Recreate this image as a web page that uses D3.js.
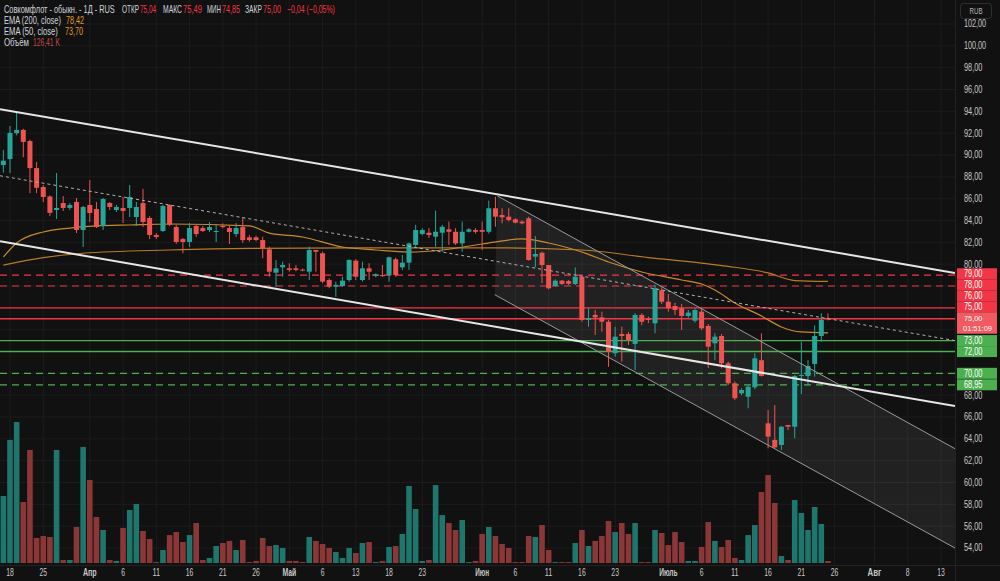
<!DOCTYPE html>
<html>
<head>
<meta charset="utf-8">
<script src="https://cdn.jsdelivr.net/npm/d3@7"></script>
<style>
html, body { margin: 0; padding: 0; background: #111111; }
svg { display: block; font-family: "Liberation Sans", Arial, sans-serif; }
</style>
</head>
<body>
<div id="wrapper"></div>
<script>
// daily bars, first visible bar has index -1
const firstBar = -1
const opens = [
    89.08, 89.63, 92.0, 92.3, 91.28, 88.8, 87.07, 86.2, 84.96, 85.6,
    85.15, 85.7, 83.13, 85.42, 85.05, 83.5, 85.6, 84.96, 85.15, 85.15,
    84.32, 85.6, 84.23, 82.67, 83.04, 85.42, 83.4, 82.3, 82.03, 83.5,
    83.31, 83.13, 82.95, 83.5, 83.31, 82.76, 83.4, 82.46, 82.46, 82.21,
    81.36, 79.22, 79.71, 79.62, 79.62, 79.5, 79.31, 81.3, 81.0, 78.55,
    77.94, 78.0, 78.55, 80.32, 78.55, 79.62, 78.93, 79.0, 79.0, 80.45,
    79.71, 80.14, 81.76, 82.76, 82.88, 82.52, 82.88, 83.19, 82.97, 81.9,
    82.97, 83.13, 83.13, 82.97, 85.12, 84.5, 84.35, 84.11, 83.9, 84.2,
    80.69, 81.05, 79.92, 78.0, 78.49, 78.45, 78.18, 78.85, 74.89, 75.35,
    75.13, 74.73, 71.84, 73.6, 73.6, 72.69, 75.35, 75.0, 74.58, 77.6,
    76.56, 76.17, 75.96, 75.25, 74.82, 75.65, 74.34, 72.75, 73.42, 70.92,
    69.09, 68.17, 67.86, 68.72, 71.2, 65.42, 63.9, 63.44, 65.27, 65.11,
    69.75, 69.75, 70.86, 73.42, 75.04
]
const highs = [
    90.46, 92.66, 93.85, 92.4, 91.4, 89.36, 87.25, 86.3, 88.35, 86.24,
    85.6, 86.06, 85.33, 87.7, 85.7, 86.06, 85.7, 85.42, 86.15, 87.25,
    85.7, 86.9, 84.4, 82.85, 85.42, 85.5, 83.6, 82.4, 83.77, 83.59,
    83.5, 83.86, 83.6, 83.74, 83.6, 83.77, 84.3, 82.67, 82.6, 82.52,
    81.6, 80.38, 80.23, 80.08, 79.9, 79.6, 81.6, 81.3, 81.14, 78.7,
    78.4, 78.85, 80.45, 80.45, 80.23, 80.08, 79.15, 79.92, 80.69, 80.6,
    80.84, 81.97, 83.6, 83.3, 83.3, 84.9, 83.6, 83.9, 83.3, 83.9,
    83.3, 83.3, 83.9, 85.82, 86.18, 85.12, 85.12, 84.2, 84.0, 84.35,
    82.58, 81.14, 79.92, 78.62, 78.55, 78.55, 79.71, 78.92, 75.96, 75.8,
    75.65, 74.89, 74.27, 74.27, 73.8, 75.5, 75.5, 75.2, 78.1, 77.88,
    77.27, 76.47, 76.35, 75.8, 75.96, 75.96, 74.52, 73.67, 73.6, 71.07,
    69.24, 68.63, 68.93, 71.84, 73.67, 66.64, 67.1, 65.17, 65.27, 69.85,
    72.9, 71.2, 74.4, 75.5, 75.49
]
const lows = [
    88.38, 88.35, 91.8, 89.8, 86.5, 86.5, 85.7, 84.4, 84.14, 84.87,
    84.96, 82.85, 81.57, 83.86, 83.31, 83.13, 84.96, 84.78, 83.77, 84.32,
    83.5, 83.4, 82.3, 82.3, 82.95, 83.5, 81.85, 81.0, 81.57, 82.49,
    82.95, 82.95, 82.03, 83.29, 81.85, 82.49, 81.95, 82.06, 82.1, 80.54,
    78.85, 77.94, 78.85, 79.31, 79.35, 79.35, 78.55, 79.31, 78.25, 77.8,
    77.0, 77.94, 78.4, 78.55, 78.4, 78.55, 78.8, 78.85, 78.4, 78.85,
    79.47, 79.47, 81.6, 82.65, 82.4, 81.6, 81.14, 81.76, 81.76, 81.14,
    82.9, 82.8, 81.3, 82.8, 83.43, 83.74, 83.9, 83.74, 83.65, 80.32,
    79.71, 78.25, 77.7, 77.94, 78.1, 78.1, 78.1, 74.73, 74.27, 73.51,
    73.82, 70.6, 71.53, 71.07, 72.6, 70.3, 74.4, 74.6, 73.67, 76.35,
    75.65, 75.35, 73.97, 75.1, 74.64, 73.97, 70.48, 71.2, 70.45, 68.93,
    67.56, 68.0, 66.8, 68.54, 69.7, 63.13, 63.13, 62.98, 64.8, 64.05,
    68.1, 68.9, 69.7, 72.9, 74.85
]
const closes = [
    89.48, 92.02, 92.3, 91.2, 88.8, 87.0, 86.15, 84.7, 85.15, 85.15,
    85.42, 83.13, 85.24, 84.69, 83.4, 85.97, 85.24, 85.24, 84.87, 86.15,
    85.24, 83.86, 82.67, 82.49, 85.33, 83.6, 82.03, 82.03, 83.31, 82.76,
    83.04, 83.4, 83.04, 83.4, 82.95, 83.31, 82.2, 82.21, 82.21, 81.45,
    79.31, 79.62, 79.92, 79.47, 79.47, 79.43, 81.3, 81.14, 78.4, 77.94,
    78.1, 78.49, 80.38, 78.85, 79.62, 79.31, 79.07, 78.9, 80.63, 79.0,
    80.14, 81.9, 83.13, 83.13, 82.67, 82.97, 83.43, 82.97, 81.9, 82.97,
    83.19, 82.97, 82.97, 85.12, 84.35, 84.29, 84.05, 83.8, 83.74, 80.38,
    80.93, 79.92, 77.79, 78.49, 78.18, 78.2, 78.85, 74.89, 75.04, 75.13,
    74.73, 71.98, 73.36, 73.42, 73.05, 75.35, 74.73, 74.9, 77.79, 76.56,
    75.96, 75.8, 75.25, 75.56, 75.8, 74.12, 72.44, 73.36, 70.92, 69.09,
    67.72, 68.47, 68.78, 71.38, 69.76, 64.2, 63.22, 65.11, 65.11, 69.76,
    69.85, 70.67, 73.42, 74.89, 75.0
]
// volume, thousands of shares
const volumes = [
    4220, 7750, 8880, 3840, 7120, 1580, 1700, 1640, 7120, 190,
    190, 2270, 7310, 5230, 2900, 2080, 190, 130, 2210, 3340,
    3720, 2020, 1510, 60, 820, 1760, 1950, 1320, 1760, 2520,
    190, 320, 1070, 1260, 1390, 820, 1450, 60, 130, 1580,
    1070, 1130, 950, 130, 130, 60, 1640, 1390, 1200, 950,
    690, 320, 950, 630, 1260, 1320, 60, 130, 1010, 1070,
    1830, 4850, 3400, 130, 190, 4910, 3020, 2520, 2080, 2710,
    60, 130, 1830, 2270, 1700, 1200, 950, 60, 60, 1700,
    1640, 2390, 820, 60, 60, 60, 1260, 2080, 1070, 1390,
    1700, 2650, 1950, 2520, 1830, 2520, 60, 60, 2080, 1890,
    1130, 1950, 1320, 130, 130, 1010, 2580, 1390, 1010, 1450,
    320, 190, 1760, 2390, 4470, 5540, 3780, 440, 190, 3970,
    3150, 2080, 3530, 2460, 126.41
]

const ema200Bars = [-1, 5, 11, 24, 36, 58, 71, 86, 96, 104, 108, 114, 118, 123]
const ema200Vals = [79.92, 80.6, 81.0, 81.3, 81.45, 81.5, 81.5, 81.3, 80.6, 80.1, 79.8, 79.2, 78.5, 78.42]
const ema50Bars = [-1, 1, 5, 9, 13, 18, 24, 36, 39, 44, 50, 55, 60, 65, 71, 77, 81, 86, 90, 95, 101, 104, 106, 109, 113, 116, 119, 123]
const ema50Vals = [80.66, 81.94, 82.95, 83.31, 83.5, 83.59, 83.68, 83.5, 82.85, 82.49, 81.57, 81.3, 81.11, 81.3, 81.85, 82.31, 81.94, 81.11, 80.2, 79.28, 78.55, 78.18, 77.63, 76.44, 75.25, 74.25, 73.79, 73.7]

const priceTicks = [54, 56, 58, 60, 62, 64, 66, 68, 70, 72, 74, 76, 78, 80, 82, 84, 86, 88, 90, 92, 94, 96, 98, 100, 102]
const dateTickBars = [0, 5, 12, 17, 22, 27, 32, 37, 42, 47, 52, 57, 62, 71, 76, 81, 86, 91, 99, 104, 109, 114, 119, 124, 130, 135, 140]
const dateTickLabels = ['18', '25', 'Апр', '6', '11', '16', '21', '26', 'Май', '6', '13', '18', '23', 'Июн', '6', '11', '16', '23', 'Июль', '6', '11', '16', '21', '26', 'Авг', '8', '13']
const monthLabels = ['Апр', 'Май', 'Июн', 'Июль', 'Авг']

const levelValues = [79, 78, 76, 75, 73, 72, 70, 68.95]
const levelKinds = ['redDash', 'redDash', 'red', 'red', 'green', 'green', 'greenDash', 'greenDash']

// drawn trend lines: [bar, price] pairs
const wideUpper = [[-1.5, 94.2], [142.1, 79.2]]
const wideMiddle = [[-1.5, 88.1], [142.1, 73.0]]
const wideLower = [[-1.5, 82.1], [142.1, 67.0]]
const fallUpper = [[73.3, 86.25], [142.1, 63.1]]
const fallLower = [[72.9, 77.2], [142.1, 54.0]]

const timer = '01:51:09'

const dims = { width: 1000, height: 581, plotRight: 955, plotBottom: 565 }

const UP = '#26a69a', DOWN = '#ef5350'
const RED = '#f23645', GREEN = '#4caf50'

const svg = d3.select('#wrapper').append('svg')
    .attr('width', dims.width)
    .attr('height', dims.height)

svg.append('rect').attr('width', dims.width).attr('height', dims.height).attr('fill', '#111111')

const x = d3.scaleLinear().domain([0, 140]).range([10, 941])
const y = d3.scaleLinear().domain([54, 102]).range([548, 24])
const yVol = d3.scaleLinear().domain([0, 8880]).range([563, 422])

const bars = opens.map((o, k) => ({
    i: firstBar + k, o, h: highs[k], l: lows[k], c: closes[k], v: volumes[k]
}))

// squeeze a text to a target width (the chart font is narrow)
function label(parent, px, py, str, width, size, color, anchor, weight) {
    const t = parent.append('text')
        .attr('font-size', size).attr('fill', color)
        .attr('text-anchor', anchor || 'start')
        .attr('font-weight', weight || 400)
        .text(str)
    const len = t.node().getComputedTextLength() || width
    t.attr('transform', `translate(${px},${py}) scale(${width / len},1)`)
    return t
}

svg.append('clipPath').attr('id', 'plot')
    .append('rect').attr('x', 0).attr('y', 0).attr('width', dims.plotRight).attr('height', dims.plotBottom)

const grid = svg.append('g').attr('clip-path', 'url(#plot)')
grid.selectAll('.hg').data(priceTicks).enter().append('line')
    .attr('x1', 0).attr('x2', dims.plotRight)
    .attr('y1', d => y(d)).attr('y2', d => y(d))
    .attr('stroke', '#1c1c1c')
grid.selectAll('.vg').data(dateTickBars).enter().append('line')
    .attr('x1', d => x(d)).attr('x2', d => x(d))
    .attr('y1', 0).attr('y2', dims.plotBottom)
    .attr('stroke', '#1c1c1c')

const plot = svg.append('g').attr('clip-path', 'url(#plot)')

// shaded falling channel
const chanPts = [fallUpper[0], fallUpper[1], fallLower[1], fallLower[0]]
plot.append('path')
    .attr('d', 'M' + chanPts.map(p => `${x(p[0])},${y(p[1])}`).join('L') + 'Z')
    .attr('fill', 'rgba(255,255,255,0.07)')

// volume
const vw = 5.6
plot.selectAll('.vol').data(bars).enter().append('rect')
    .attr('x', d => x(d.i) - vw / 2)
    .attr('width', vw)
    .attr('y', d => yVol(d.v))
    .attr('height', d => Math.max(0.8, yVol(0) - yVol(d.v)))
    .attr('fill', d => d.c >= d.o ? '#1f766c' : '#8c3737')

// horizontal levels
plot.selectAll('.lvl').data(levelValues).enter().append('line')
    .attr('x1', 0).attr('x2', dims.plotRight)
    .attr('y1', d => y(d)).attr('y2', d => y(d))
    .attr('stroke', (d, k) => levelKinds[k].startsWith('red') ? RED : GREEN)
    .attr('stroke-width', (d, k) => levelKinds[k].endsWith('Dash') ? 1.2 : 1.4)
    .attr('stroke-dasharray', (d, k) => levelKinds[k].endsWith('Dash') ? '7,5' : null)

// EMA lines
const emaLine = d3.line().x(d => x(d[0])).y(d => y(d[1])).curve(d3.curveMonotoneX)
plot.append('path').datum(ema200Bars.map((b, k) => [b, ema200Vals[k]]))
    .attr('d', emaLine).attr('fill', 'none').attr('stroke', '#b87a28').attr('stroke-width', 1.2)
plot.append('path').datum(ema50Bars.map((b, k) => [b, ema50Vals[k]]))
    .attr('d', emaLine).attr('fill', 'none').attr('stroke', '#c98a2e').attr('stroke-width', 1.2)

// candles
const cw = 5
const candle = plot.selectAll('.candle').data(bars).enter().append('g')
candle.append('line')
    .attr('x1', d => x(d.i)).attr('x2', d => x(d.i))
    .attr('y1', d => y(d.h)).attr('y2', d => y(d.l))
    .attr('stroke', d => d.c >= d.o ? UP : DOWN)
candle.append('rect')
    .attr('x', d => x(d.i) - cw / 2)
    .attr('width', cw)
    .attr('y', d => y(Math.max(d.o, d.c)))
    .attr('height', d => Math.max(1, Math.abs(y(d.o) - y(d.c))))
    .attr('fill', d => d.c >= d.o ? UP : DOWN)

// trend lines
const seg = (p, color, w, dash) => plot.append('line')
    .attr('x1', x(p[0][0])).attr('y1', y(p[0][1]))
    .attr('x2', x(p[1][0])).attr('y2', y(p[1][1]))
    .attr('stroke', color).attr('stroke-width', w)
    .attr('stroke-dasharray', dash)
seg(fallUpper, '#9a9a9a', 1, null)
seg(fallLower, '#9a9a9a', 1, null)
seg(wideMiddle, '#b0b0b0', 1, '3,3')
seg(wideUpper, '#e6e6e6', 2, null)
seg(wideLower, '#e6e6e6', 2, null)

// axis borders
svg.append('line').attr('x1', dims.plotRight + 0.5).attr('x2', dims.plotRight + 0.5)
    .attr('y1', 0).attr('y2', dims.height).attr('stroke', '#222')
svg.append('line').attr('x1', 0).attr('x2', dims.width)
    .attr('y1', dims.plotBottom + 0.5).attr('y2', dims.plotBottom + 0.5).attr('stroke', '#222')

// right axis coloured labels, stacked so they do not overlap
const lastBar = bars[bars.length - 1]
const curY = y(lastBar.c)
const curTop = curY - 6.5, curBottom = curY + 15
const lab = levelValues.map((v, k) => ({ v, kind: levelKinds[k], cy: y(v) }))
let limit = curTop
lab.filter(d => d.cy <= curY).sort((a, b) => b.cy - a.cy).forEach(d => {
    d.cy = Math.min(d.cy, limit - 5.5); limit = d.cy - 5.5
})
limit = curBottom
lab.filter(d => d.cy > curY).sort((a, b) => a.cy - b.cy).forEach(d => {
    d.cy = Math.max(d.cy, limit + 5.5); limit = d.cy + 5.5
})

const fmt = v => v.toFixed(2).replace('.', ',')
const digitW = 3.7

const axis = svg.append('g')
priceTicks.filter(t => {
    const ty = y(t)
    if (ty > curTop - 5 && ty < curBottom + 5) return false
    return lab.every(d => Math.abs(d.cy - ty) >= 9)
}).forEach(t => {
    label(axis, 964, y(t) + 3.4, fmt(t), fmt(t).length * digitW, 10, '#c8c8c8')
})

lab.forEach(d => {
    axis.append('rect')
        .attr('x', 957).attr('width', 40)
        .attr('y', d.cy - 5.5).attr('height', 11)
        .attr('fill', d.kind.startsWith('red') ? RED : GREEN)
    label(axis, 964, d.cy + 3.4, fmt(d.v), fmt(d.v).length * digitW, 10, '#ffffff')
})

axis.append('rect').attr('x', 957).attr('width', 40).attr('y', curTop).attr('height', curBottom - curTop)
    .attr('fill', '#f05a60')
label(axis, 964, curY + 2.6, fmt(lastBar.c), fmt(lastBar.c).length * digitW, 8, '#fff')
label(axis, 963, curY + 12.4, timer, 29, 8, '#fff')

axis.append('rect').attr('x', 960.5).attr('y', 3.5).attr('width', 31).attr('height', 15).attr('rx', 3)
    .attr('fill', 'none').attr('stroke', '#2e2e2e')
label(axis, 976, 14, 'RUB', 13, 9, '#b8b8b8', 'middle')

// time axis
const timeAxis = svg.append('g')
dateTickBars.forEach((b, k) => {
    const s = dateTickLabels[k]
    const isMonth = monthLabels.includes(s)
    label(timeAxis, x(b), 576, s, s.length * (isMonth ? 4.6 : 3.8), 10, '#c8c8c8', 'middle', isMonth ? 700 : 400)
})

// legend
const legendRows = [
    [[4, 'Совкомфлот - обыкн. - 1Д - RUS', 111, '#d1d4dc'],
     [122, 'ОТКР', 17, '#d1d4dc'], [140, fmt(lastBar.o), 16, RED],
     [163, 'МАКС', 19, '#d1d4dc'], [183, fmt(lastBar.h), 19, RED],
     [207, 'МИН', 14, '#d1d4dc'], [222, fmt(lastBar.l), 18, RED],
     [245, 'ЗАКР', 17, '#d1d4dc'], [263, fmt(lastBar.c), 18, RED],
     [287, '−0,04 (−0,05%)', 48, RED]],
    [[4, 'EMA (200, close)', 57, '#d1d4dc'], [66, fmt(ema200Vals[ema200Vals.length - 1]), 18, '#e39b2b']],
    [[4, 'EMA (50, close)', 54, '#d1d4dc'], [65, fmt(ema50Vals[ema50Vals.length - 1]), 18, '#e39b2b']],
    [[4, 'Объём', 25, '#d1d4dc'], [33, fmt(lastBar.v) + ' K', 27, '#c0474d']]
]
const legend = svg.append('g')
legendRows.forEach((row, r) => {
    row.forEach(p => label(legend, p[0], 12.5 + r * 11.2, p[1], p[2], 10.5, p[3]))
})
</script>
</body>
</html>
